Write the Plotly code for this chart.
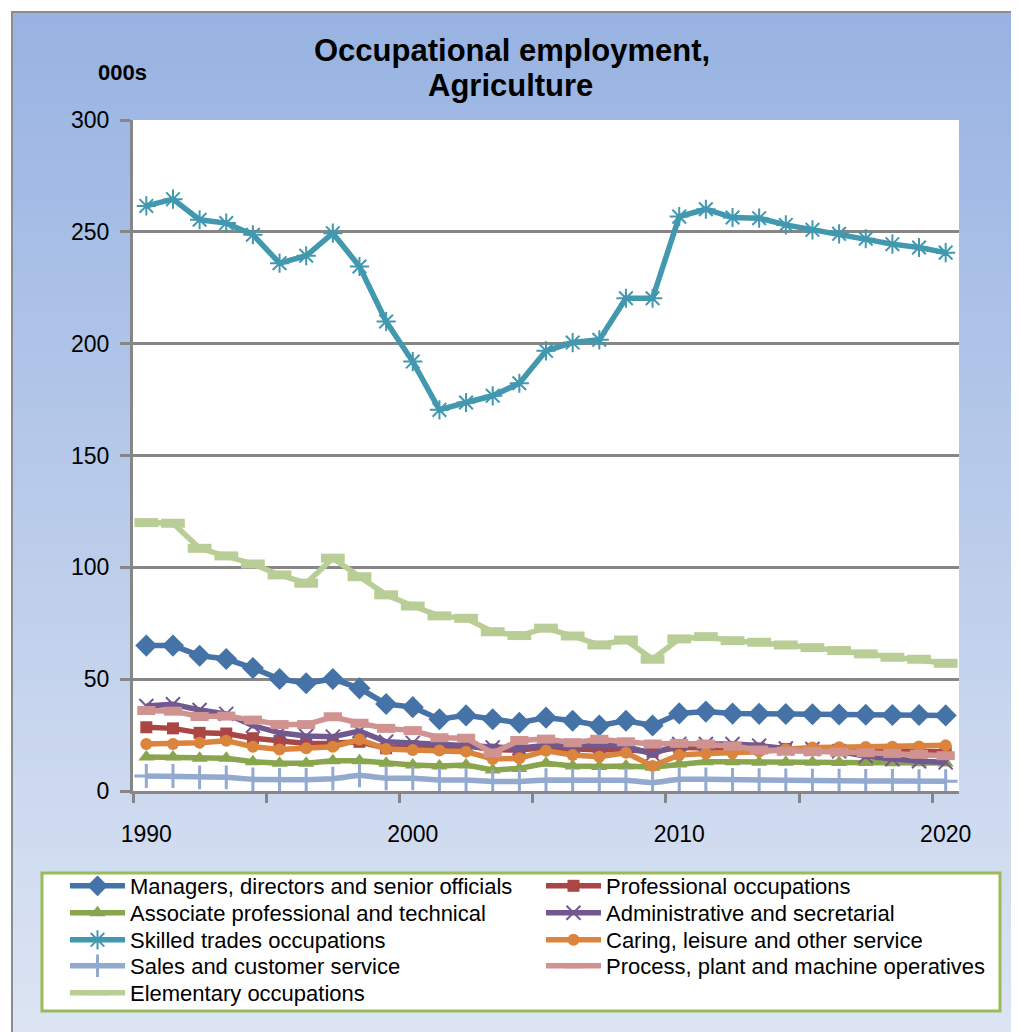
import plotly.graph_objects as go

years = list(range(1990, 2021))

managers = [65, 65, 60.5, 59, 55, 50.1, 48.2, 50.1, 45.9, 38.9, 37.5, 32.1, 33.8, 32.1, 30.5, 32.8,
            31.4, 29.3, 31.4, 29.3, 34.7, 35.5, 34.6, 34.5, 34.4, 34.3, 34.2, 34.1, 34, 34, 33.8]
professional = [28.5, 28, 26, 25.7, 23.6, 22.4, 21.2, 21.3, 22, 19.1, 20, 19.5, 20.2, 18.5, 18.3, 19.5,
                19, 18.3, 18.5, 17.5, 19.5, 19.5, 19.2, 19, 18.8, 18.6, 18.4, 18.2, 18, 17.8, 17.6]
associate = [15.2, 15.2, 14.6, 14.6, 13.1, 12.4, 12.4, 13.5, 13.5, 12.4, 11.6, 11.2, 11.6, 9.4, 10.1, 12.4,
             11.2, 11, 11.2, 10.6, 12.1, 13.1, 13.1, 12.8, 12.8, 12.8, 12.7, 12.7, 12.6, 12.6, 12.5]
admin = [38, 38.8, 36.2, 34.5, 29.2, 26, 24.6, 24.3, 26.8, 22, 21.5, 21, 20.6, 19.5, 19.1, 20.5,
         20, 20.5, 20, 16.5, 21, 21, 21, 20.3, 19, 18.8, 17.8, 15.5, 14.3, 13.3, 12.8]
skilled = [261.6, 264.6, 255.4, 253.9, 248.7, 236, 239.3, 249.4, 234.5, 209.9, 192, 170.4, 173.7, 176.7, 182.3, 196.8,
           200.5, 201.7, 220.3, 220.3, 256.8, 260.1, 256.4, 256.1, 253.1, 250.9, 249.1, 246.9, 244.5, 243, 240.7]
caring = [21, 21, 21.6, 22.5, 19.8, 18.6, 19.1, 19.8, 23, 18.8, 18.3, 18.1, 17.6, 14.3, 14.6, 18,
          16.1, 15.3, 17.1, 11.2, 16.1, 16.8, 17, 17.6, 18.7, 19.5, 19.6, 19.7, 19.8, 19.9, 20.4]
sales = [6.7, 6.7, 6.1, 6.1, 5.2, 5, 5, 5.5, 7, 5.7, 5.7, 4.9, 4.9, 4.2, 4.2, 4.9,
         4.9, 4.8, 4.8, 3.7, 5.2, 5.2, 5, 4.8, 4.7, 4.6, 4.6, 4.5, 4.5, 4.4, 4.4]
process = [36, 35.7, 33.3, 33.5, 31.7, 29.7, 29.7, 33.2, 30.3, 28, 27, 23.8, 23.6, 17, 22.6, 23.2,
           21.6, 23.1, 22, 21, 21.3, 21, 20.1, 18.3, 17.8, 17.6, 17.4, 17.1, 16.8, 16.4, 15.8]
elementary = [120, 119.7, 108.5, 105.1, 101.5, 96.6, 92.9, 104.1, 95.8, 87.7, 82.7, 78.3, 77.2, 71.2, 69.5, 72.8,
              69.3, 65.3, 67.5, 58.9, 68, 69, 67.2, 66.5, 65.3, 64.1, 62.8, 61.3, 59.8, 58.9, 57.1]

series_names = [
    "Managers, directors and senior officials",
    "Professional occupations",
    "Associate professional and technical",
    "Administrative and secretarial",
    "Skilled trades occupations",
    "Caring, leisure and other service",
    "Sales and customer service",
    "Process, plant and machine operatives",
    "Elementary occupations",
]
series_values = [managers, professional, associate, admin, skilled, caring, sales, process, elementary]
x_tick_labels = ["1990", "2000", "2010", "2020"]
x_tick_vals = [1990, 2000, 2010, 2020]

colors = ["#4572A7", "#AA4643", "#89A54E", "#71588F", "#4198AF", "#DB843D", "#93A9CF", "#D19392", "#B9CD96"]
markers = [
    dict(symbol="diamond", size=17),
    dict(symbol="square", size=12),
    dict(symbol="triangle-up", size=14),
    dict(symbol="x-thin-open", size=14, line=dict(width=2)),
    dict(symbol="asterisk-open", size=16, line=dict(width=2)),
    dict(symbol="circle", size=12),
    dict(symbol="cross-thin-open", size=17, line=dict(width=3)),
    dict(symbol="line-ew-open", size=13, line=dict(width=9)),
    dict(symbol="line-ew-open", size=17, line=dict(width=9)),
]

# page body has an 8px margin: work in reference pixel coords, shift by 8
OFF = 8
W, H = 1019 - OFF, 1032 - OFF
PL, PR, PT, PB = 133 - OFF, 959 - OFF, 120 - OFF, 791 - OFF  # plot area in local px
L, R, T, B = PL, W - PR, PT, H - PB
pw, ph = PR - PL, PB - PT

def px_x(px):  # reference px -> paper x
    return (px - OFF - PL) / pw

def px_y(py):  # reference px -> paper y
    return (PB - (py - OFF)) / ph

# legend slots (reference px): text-start x column, row centre y
legend_cols = [65, 541]
legend_rows = [886, 913, 940, 966, 993]

font_family = "Liberation Sans, Arial, sans-serif"
grey = "#868686"

fig = go.Figure()
legend_layouts = {}
for idx, (name, vals, col, mk) in enumerate(zip(series_names, series_values, colors, markers)):
    m = dict(mk)
    m["color"] = col
    if "line" in m:
        m["line"] = dict(m["line"], color=col)
    lg = "legend" if idx == 0 else "legend%d" % (idx + 1)
    fig.add_trace(go.Scatter(x=years, y=vals, name=name, mode="lines+markers",
                             line=dict(color=col, width=5.5), marker=m, legend=lg))
    cx = legend_cols[idx % 2]
    ry = legend_rows[idx // 2]
    legend_layouts[lg] = dict(orientation="v", xref="container", yref="container",
                              x=(cx - OFF) / W, y=1 - (ry - OFF) / H,
                              xanchor="left", yanchor="middle",
                              bgcolor="rgba(0,0,0,0)", borderwidth=0,
                              font=dict(size=22, family=font_family, color="black"),
                              itemwidth=55)

shapes = []
# gradient background stripes
top_c = (152, 179, 226)
bot_c = (221, 229, 243)
y_start = 12
n = 90
step = (1032 + 10 - y_start) / n
for i in range(n):
    t = i / (n - 1)
    c = tuple(int(round(top_c[k] + (bot_c[k] - top_c[k]) * t)) for k in range(3))
    ya = y_start + i * step
    yb = ya + step + 1
    shapes.append(dict(type="rect", xref="paper", yref="paper", layer="below",
                       x0=px_x(12), x1=px_x(1030), y0=px_y(ya), y1=px_y(yb),
                       fillcolor="rgb(%d,%d,%d)" % c, line=dict(width=0)))
# outer border lines
shapes.append(dict(type="line", xref="paper", yref="paper", layer="below",
                   x0=px_x(12), x1=px_x(12), y0=px_y(11), y1=px_y(1040),
                   line=dict(color="#8C8C8C", width=2)))
shapes.append(dict(type="line", xref="paper", yref="paper", layer="below",
                   x0=px_x(11), x1=px_x(1030), y0=px_y(12), y1=px_y(12),
                   line=dict(color="#8C8C8C", width=2)))
# legend box
shapes.append(dict(type="rect", xref="paper", yref="paper", layer="below",
                   x0=px_x(42), x1=px_x(1000), y0=px_y(873), y1=px_y(1011),
                   fillcolor="white", line=dict(color="#9BBB59", width=3)))
# white plot area
shapes.append(dict(type="rect", xref="x", yref="y", layer="below",
                   x0=1989.5, x1=2020.5, y0=0, y1=300, fillcolor="white", line=dict(width=0)))

title_font = dict(size=31, family=font_family, color="black")
annotations = [
    dict(text="<b>Occupational employment,</b>", xref="paper", yref="paper",
         x=px_x(512), y=px_y(50), showarrow=False, xanchor="center", yanchor="middle", font=title_font),
    dict(text="<b>Agriculture</b>", xref="paper", yref="paper",
         x=px_x(510), y=px_y(85), showarrow=False, xanchor="center", yanchor="middle", font=title_font),
    dict(text="<b>000s</b>", xref="paper", yref="paper",
         x=px_x(122), y=px_y(72), showarrow=False, xanchor="center", yanchor="middle",
         font=dict(size=22, family=font_family, color="black")),
]

fig.update_layout(
    width=W, height=H,
    margin=dict(l=L, r=R, t=T, b=B, autoexpand=False),
    paper_bgcolor="white",
    plot_bgcolor="white",
    shapes=shapes,
    annotations=annotations,
    font=dict(family=font_family, color="black", size=22),
    xaxis=dict(range=[1989.5, 2020.5], tickvals=x_tick_vals, ticktext=x_tick_labels,
               ticks="outside", ticklen=20, tickcolor="rgba(0,0,0,0)",
               showgrid=False, zeroline=False, showline=True, linecolor=grey, linewidth=3,
               tickfont=dict(size=23),
               minor=dict(tick0=1989.5, dtick=5, ticks="outside", ticklen=9,
                          tickcolor=grey, tickwidth=2.5, showgrid=False)),
    yaxis=dict(range=[0, 300], dtick=50, ticks="outside", ticklen=10, tickcolor=grey, tickwidth=2.5,
               showgrid=True, gridcolor=grey, gridwidth=2.5, zeroline=False,
               showline=True, linecolor=grey, linewidth=3, tickfont=dict(size=23),
               ticklabelstandoff=6),
    showlegend=True,
)
fig.update_layout(**legend_layouts)

fig.write_html("out.html")
